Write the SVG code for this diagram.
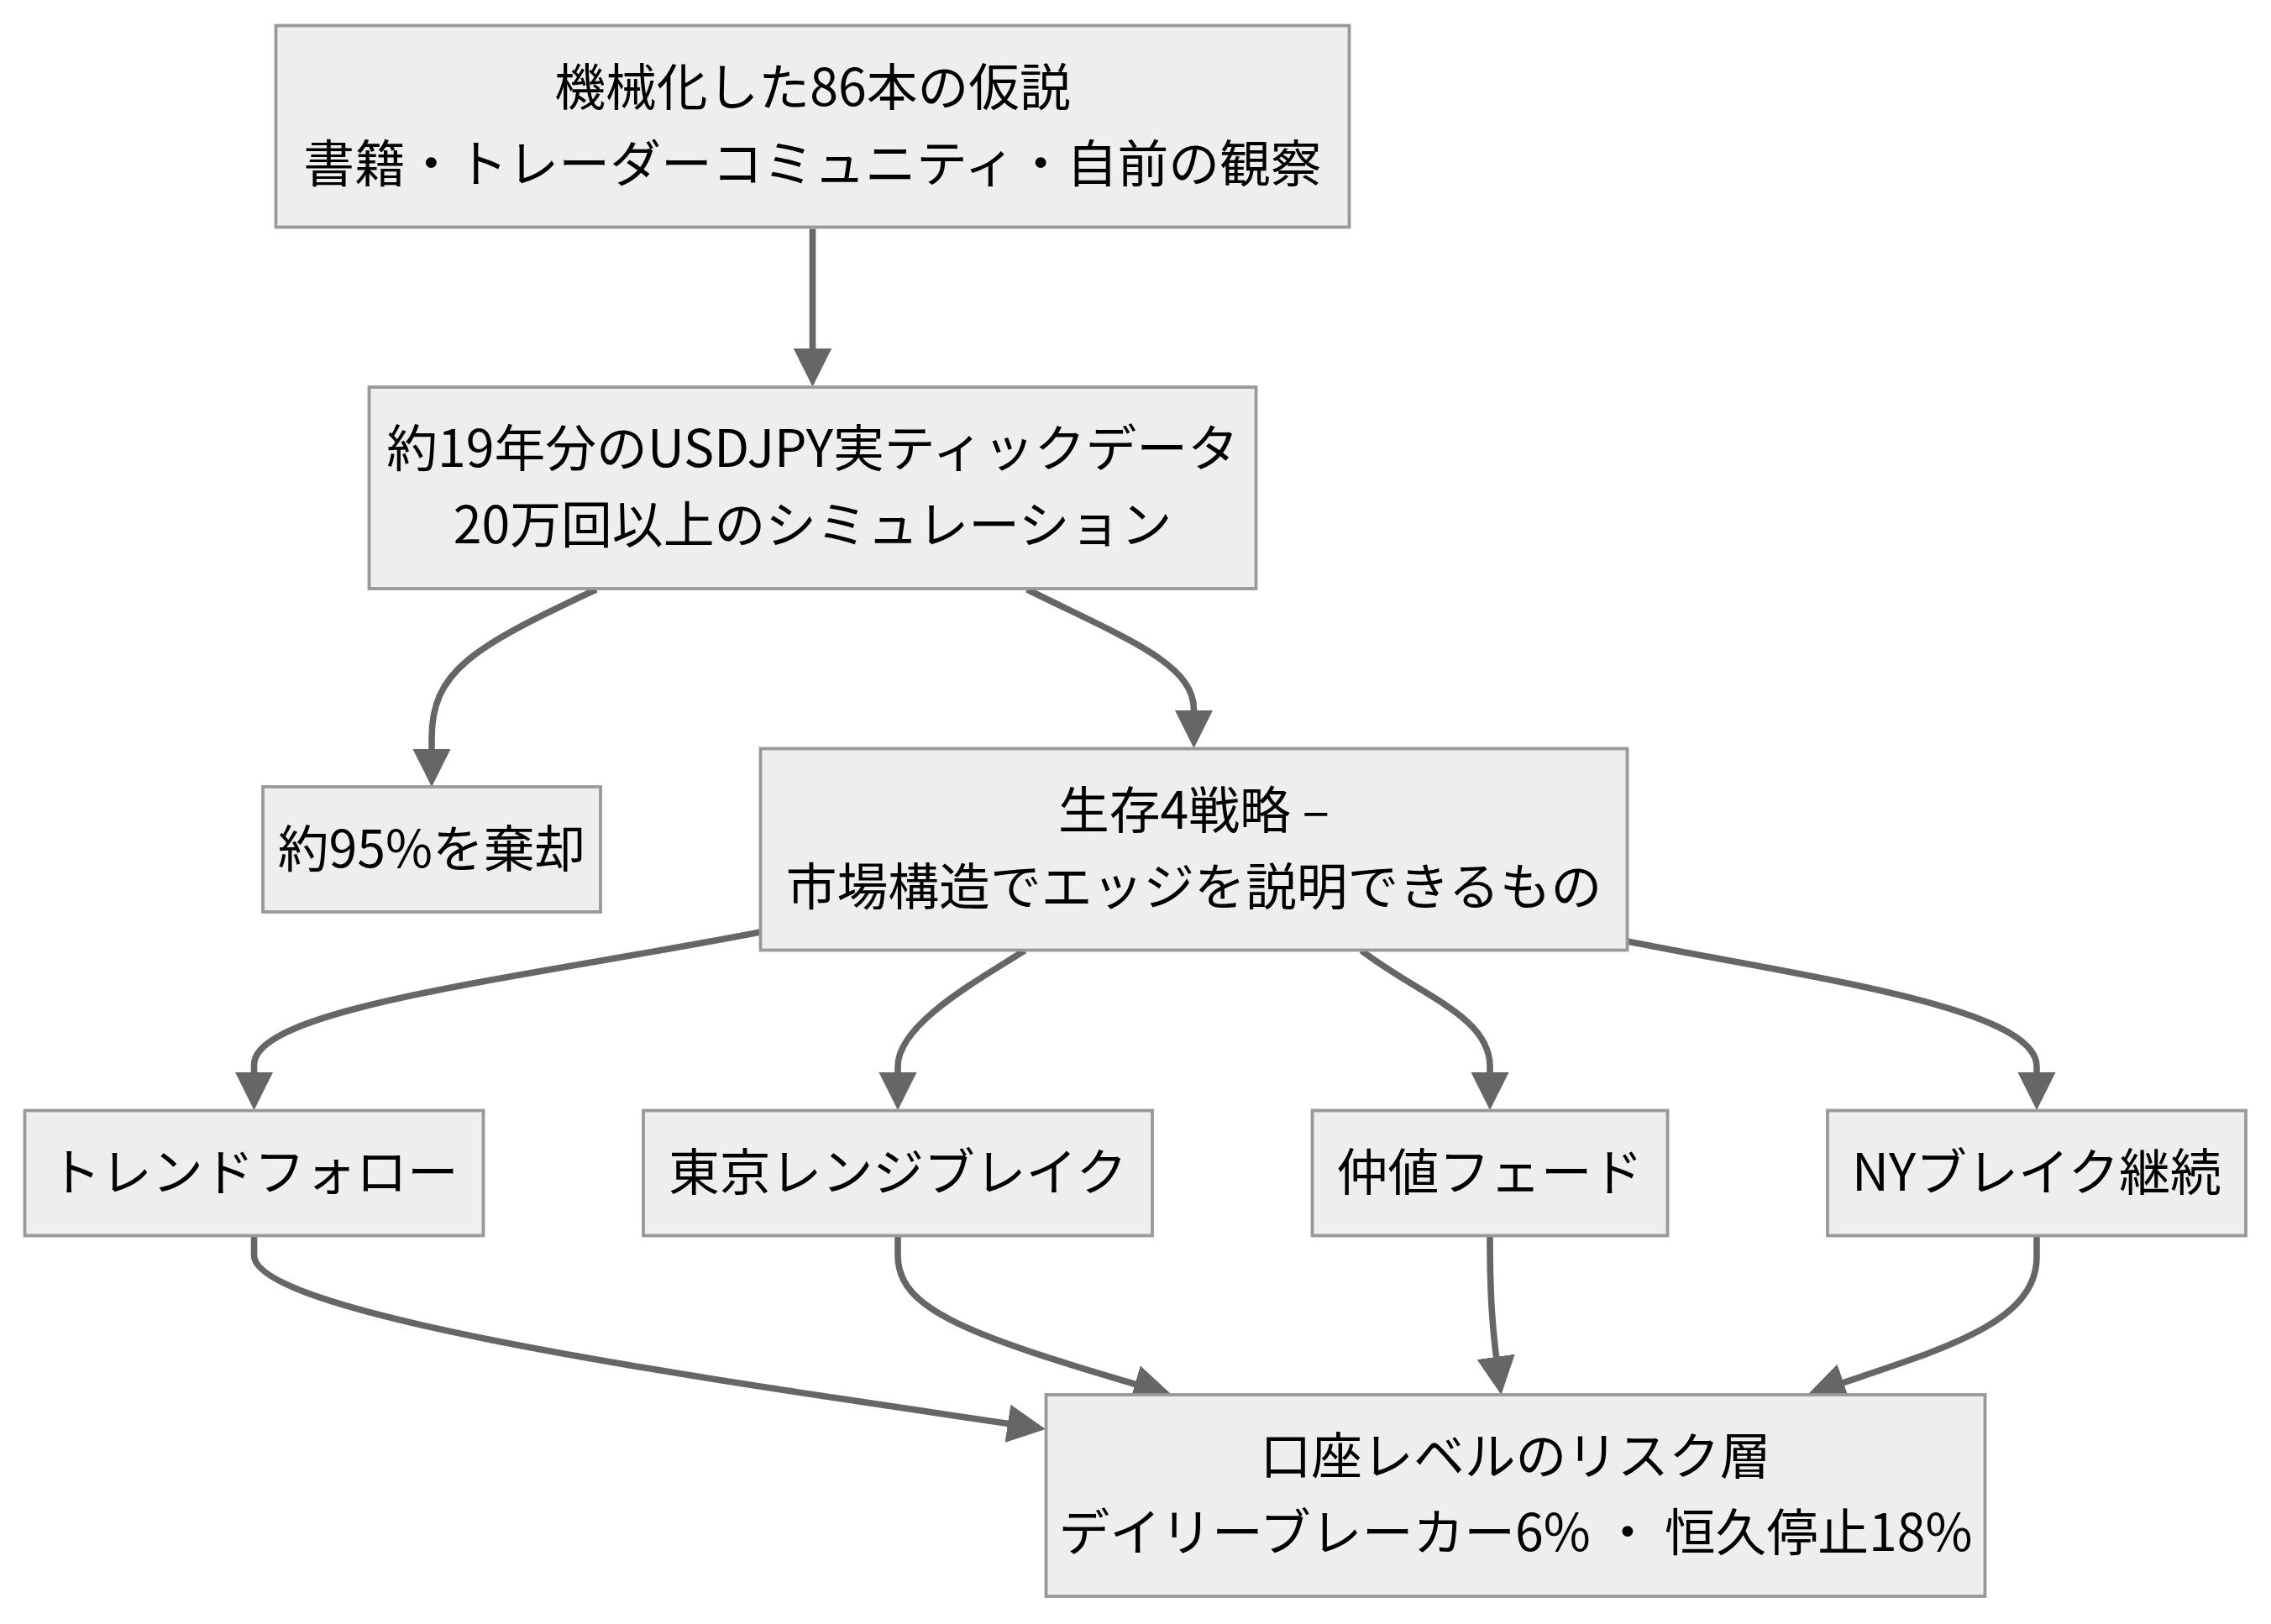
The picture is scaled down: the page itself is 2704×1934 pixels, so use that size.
<svg xmlns="http://www.w3.org/2000/svg" width="2704" height="1934" viewBox="0 0 2704 1934">
<style>
.node rect{fill:#eeeeee;stroke:#999999;stroke-width:3.8}
.node text{font-family:"Noto Sans CJK JP",sans-serif;font-size:60.8px;fill:#000;text-anchor:middle}
.edges path{fill:none;stroke:#666666;stroke-width:7.6;marker-end:url(#arrow)}
</style>
<defs>
<marker id="arrow" viewBox="0 0 10 10" refX="8" refY="5" markerUnits="userSpaceOnUse" markerWidth="45.6" markerHeight="45.6" orient="auto">
<path d="M0,0 L10,5 L0,10 z" fill="#666666"/>
</marker>
</defs>
<rect width="2704" height="1934" fill="#ffffff"/>
<g class="edges" id="connectors">
<path d="M967.5,272.5 L967.5,451.5"/>
<path d="M710,702 C560,772 514,800 514,880 L514,928"/>
<path d="M1223,702 C1340,760 1421.5,790 1421.5,845 L1421.5,882"/>
<path d="M905.5,1110 C620,1165 302.5,1200 302.5,1268 L302.5,1313"/>
<path d="M1220,1132 C1160,1170 1069,1220 1069,1270 L1069,1313"/>
<path d="M1621,1132 C1690,1185 1774,1210 1774,1270 L1774,1313"/>
<path d="M1937.5,1121 C2160,1165 2425,1200 2425,1270 L2425,1313"/>
<path d="M302.5,1472 L302.5,1495 C302.5,1570 900,1650 1236,1700.7"/>
<path d="M1069,1472 L1069,1495 C1069,1560 1150,1590 1386.4,1658.5"/>
<path d="M1774,1472 C1774,1540 1776,1580 1786.2,1652"/>
<path d="M2425,1472 L2425,1497 C2425,1580 2300,1610 2160.5,1658.2"/>
</g>
<g class="node" id="n1">
<rect x="328.5" y="30.5" width="1278" height="240"/>
<text x="967.5" y="125.5">機械化した86本の仮説</text>
<text x="967.5" y="216.5">書籍・トレーダーコミュニティ・自前の観察</text>
</g>
<g class="node" id="n2">
<rect x="439.5" y="461" width="1056" height="240"/>
<text x="967.5" y="556">約19年分のUSDJPY実ティックデータ</text>
<text x="967.5" y="647">20万回以上のシミュレーション</text>
</g>
<g class="node" id="n3">
<rect x="313" y="937" width="402" height="149"/>
<text x="514" y="1033">約95%を棄却</text>
</g>
<g class="node" id="n4">
<rect x="905.5" y="891.5" width="1032" height="240"/>
<text x="1421.5" y="987">生存4戦略 –</text>
<text x="1421.5" y="1078">市場構造でエッジを説明できるもの</text>
</g>
<g class="node" id="n5">
<rect x="29.5" y="1322.5" width="546" height="149"/>
<text x="302.5" y="1418">トレンドフォロー</text>
</g>
<g class="node" id="n6">
<rect x="766" y="1322.5" width="606" height="149"/>
<text x="1069" y="1418">東京レンジブレイク</text>
</g>
<g class="node" id="n7">
<rect x="1562.5" y="1322.5" width="423" height="149"/>
<text x="1774" y="1418">仲値フェード</text>
</g>
<g class="node" id="n8">
<rect x="2176" y="1322.5" width="498" height="149"/>
<text x="2425" y="1418">NYブレイク継続</text>
</g>
<g class="node" id="n9">
<rect x="1245.5" y="1661" width="1118" height="240"/>
<text x="1804.5" y="1756">口座レベルのリスク層</text>
<text x="1804.5" y="1847">デイリーブレーカー6% ・ 恒久停止18%</text>
</g>
</svg>
